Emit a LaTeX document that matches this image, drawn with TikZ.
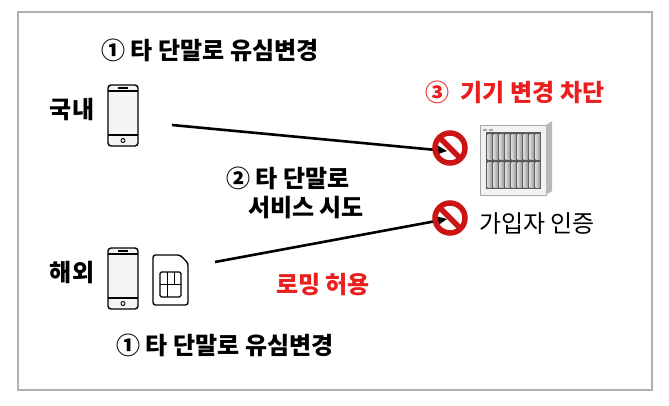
\documentclass[tikz,border=0pt]{standalone}
\usepackage{fontspec}
\setmainfont{Noto Sans CJK KR}
\usetikzlibrary{arrows.meta}
\definecolor{myred}{RGB}{235,30,30}
\definecolor{nored}{RGB}{205,20,20}
\tikzset{
  lbl/.style={font=\fontsize{24}{29}\selectfont\bfseries, inner sep=0pt},
  redlbl/.style={lbl, text=myred},
  conn/.style={line width=2.6pt, -{Stealth[length=11pt,width=10pt]}},
}
\begin{document}
\begin{tikzpicture}[x=1pt,y=-1pt]
\useasboundingbox (0,0) rectangle (669,405);
\draw[gray!60, line width=1.5pt] (18,12) rectangle (652,390);
% labels
\node[lbl] (t1) at (210,50) {① 타 단말로 유심변경};
\node[lbl] (kn) at (72,110) {국내};
\node[lbl] (hw) at (72,273) {해외};
\node[redlbl] (t3) at (515,92) {③\ \ 기기 변경 차단};
\node[lbl, align=left] (t2) at (295,193) {② 타 단말로\\\ \ \ \ 서비스 시도};
\node[font=\fontsize{24}{29}\selectfont, inner sep=0pt] (sub) at (537,224) {가입자 인증};
\node[redlbl] (rm) at (323,285) {로밍 허용};
\node[lbl] (t4) at (225,345) {① 타 단말로 유심변경};
% phones
\foreach \n/\y in {p1/85,p2/248}{
  \draw[line width=1.4pt, fill=gray!8, rounded corners=3pt] (108,\y) rectangle (138,\y+61);
  \draw[line width=1.1pt] (108,\y+6) -- (138,\y+6) (108,\y+50) -- (138,\y+50);
  \draw[line width=1.2pt] (118,\y+3) -- (128,\y+3);
  \draw[line width=0.9pt] (123,\y+55.5) circle (2pt);
}
% SIM
\draw[line width=1.4pt, rounded corners=2.5pt] (153,255) -- (180,255) -- (188,263) -- (188,305) -- (153,305) -- cycle;
\draw[line width=1.1pt, rounded corners=1.5pt] (160,272) rectangle (181,297);
\draw[line width=0.9pt] (160,284) -- (181,284) (167,272) -- (167,297) (174,272) -- (174,284);
% server
\node[draw=gray!70, line width=1pt, fill=gray!10, minimum width=66pt, minimum height=70pt, inner sep=0pt] (srv) at (513,160) {};
\fill[black!65] (486,132) rectangle (541,189);
\foreach \i in {0,...,8}{
  \fill[left color=gray!30, right color=gray!80] (487.5+\i*6,134) rectangle (492+\i*6,159);
  \fill[left color=gray!30, right color=gray!80] (487.5+\i*6,162) rectangle (492+\i*6,187);
}
\fill[gray!55] (546,125) -- (552,121) -- (552,191) -- (546,195) -- cycle;
\fill[gray!70] (483,129) rectangle (487,131);
\fill[gray!70] (489,129) rectangle (493,131);
% connectors
\coordinate (s1) at (172,125);
\coordinate (s2) at (215,262);
\coordinate (e1) at (447,151);
\coordinate (e2) at (447,219);
\draw[conn] (s1) -- (e1);
\draw[conn] (s2) -- (e2);
% prohibition signs
\foreach \cx/\cy in {450/148,450/218}{
  \draw[nored, line width=5.5pt] (\cx,\cy) circle (15pt);
  \draw[nored, line width=5.5pt] (\cx-10.6,\cy-10.6) -- (\cx+10.6,\cy+10.6);
}
\end{tikzpicture}
\end{document}
